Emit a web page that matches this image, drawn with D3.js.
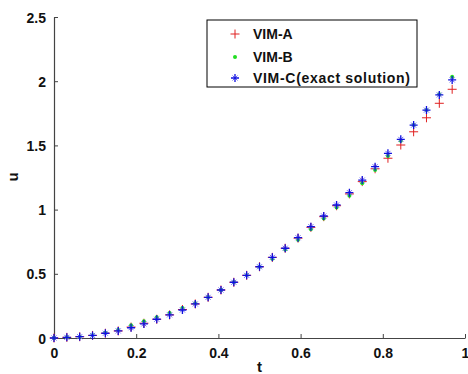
<!DOCTYPE html>
<html>
<head>
<meta charset="utf-8">
<script src="https://cdn.jsdelivr.net/npm/d3@7"></script>
<style>
  body { margin: 0; background: #fff; }
  svg { display: block; }
  text { font-family: "Liberation Sans", Arial, sans-serif; }
  .tick-label { font-size: 14px; font-weight: bold; fill: #111; }
  .axis-title { font-size: 15px; font-weight: bold; fill: #111; }
  .legend-text { font-size: 14px; font-weight: bold; fill: #111; }
</style>
</head>
<body>
<svg id="chart" width="468" height="374"></svg>
<script>
// t grid (k/32)
let tValues = [0, 0.03125, 0.0625, 0.09375, 0.125, 0.15625, 0.1875, 0.21875,
  0.25, 0.28125, 0.3125, 0.34375, 0.375, 0.40625, 0.4375, 0.46875,
  0.5, 0.53125, 0.5625, 0.59375, 0.625, 0.65625, 0.6875, 0.71875,
  0.75, 0.78125, 0.8125, 0.84375, 0.875, 0.90625, 0.9375, 0.96875];

// VIM-C (exact solution)
let vimC = [0, 0.005, 0.01, 0.02, 0.037, 0.055, 0.08, 0.11,
  0.146, 0.18, 0.218, 0.265, 0.317, 0.374, 0.434, 0.488,
  0.555, 0.628, 0.699, 0.781, 0.867, 0.95, 1.036, 1.132,
  1.23, 1.334, 1.438, 1.547, 1.658, 1.775, 1.893, 2.01];

// VIM-B
let vimB = [0, 0.005, 0.01, 0.022, 0.04, 0.062, 0.1, 0.13,
  0.161, 0.195, 0.233, 0.27, 0.317, 0.374, 0.434, 0.488,
  0.555, 0.618, 0.689, 0.766, 0.847, 0.93, 1.016, 1.107,
  1.205, 1.309, 1.418, 1.537, 1.658, 1.775, 1.898, 2.035];

// VIM-A
let vimA = [0, 0.005, 0.01, 0.02, 0.037, 0.055, 0.085, 0.115,
  0.146, 0.18, 0.222, 0.265, 0.317, 0.374, 0.434, 0.488,
  0.555, 0.628, 0.699, 0.778, 0.862, 0.945, 1.03, 1.122,
  1.218, 1.318, 1.40, 1.503, 1.606, 1.715, 1.828, 1.937];

let xTicks = [0, 0.2, 0.4, 0.6, 0.8, 1];
let yTicks = [0, 0.5, 1, 1.5, 2, 2.5];
let legendLabels = ["VIM-A", "VIM-B", "VIM-C(exact solution)"];

let drawChart = function() {
  let svg = d3.select("svg#chart");

  const margin = { left: 54, right: 3, top: 17, bottom: 36 };
  const width = 468, height = 374;
  const plotHeight = height - margin.top - margin.bottom;

  let x = d3.scaleLinear().domain([0, 1]).range([0, 411]);
  let y = d3.scaleLinear().domain([0, 2.5]).range([plotHeight, 0]);

  const plot = svg.append("g").attr("transform", translate(margin.left, margin.top));

  let xAxis = d3.axisBottom(x).tickValues(xTicks).tickSizeInner(-4).tickSizeOuter(0)
    .tickPadding(10).tickFormat(d3.format("~g"));
  let yAxis = d3.axisLeft(y).tickValues(yTicks).tickSizeInner(-4).tickSizeOuter(0)
    .tickPadding(8).tickFormat(d3.format("~g"));

  let xGroup = plot.append("g").attr("transform", translate(0, plotHeight)).call(xAxis);
  let yGroup = plot.append("g").call(yAxis);

  [xGroup, yGroup].forEach(function(g) {
    g.select(".domain").attr("stroke", "#444").attr("stroke-width", 1.2);
    g.selectAll(".tick line").attr("stroke", "#444");
    g.selectAll(".tick text").attr("class", "tick-label").attr("font-family", null).attr("font-size", null);
  });
  xGroup.selectAll(".tick text").attr("dy", "0.71em");
  yGroup.selectAll(".tick text").attr("dy", "0.36em");

  svg.append("text").attr("class", "axis-title")
    .attr("x", margin.left + x(0.5)).attr("y", 372)
    .attr("text-anchor", "middle").text("t");

  svg.append("text").attr("class", "axis-title")
    .attr("transform", translate(18, 177) + " rotate(-90)")
    .attr("text-anchor", "middle").text("u");

  // markers
  const plusPath = "M-4.5,0H4.5M0,-4.5V4.5";
  const starPlus = "M-4,0H4M0,-4V4";
  const starDiag = "M-2.5,-2.5L2.5,2.5M-2.5,2.5L2.5,-2.5";

  plot.append("g").selectAll("path").data(vimA).join("path")
    .attr("d", plusPath)
    .attr("transform", (d, i) => translate(x(tValues[i]), y(d)))
    .attr("stroke", "#e02020").attr("stroke-width", 1).attr("fill", "none");

  plot.append("g").selectAll("circle").data(vimB).join("circle")
    .attr("cx", (d, i) => x(tValues[i])).attr("cy", d => y(d))
    .attr("r", 2).attr("fill", "#22dd22");

  let stars = plot.append("g").selectAll("g").data(vimC).join("g")
    .attr("transform", (d, i) => translate(x(tValues[i]), y(d)));
  stars.append("path").attr("d", starDiag)
    .attr("stroke", "#6a6af0").attr("stroke-width", 1).attr("fill", "none");
  stars.append("path").attr("d", starPlus)
    .attr("stroke", "#1010e0").attr("stroke-width", 1.3).attr("fill", "none");

  // legend
  const legend = svg.append("g").attr("transform", translate(207, 20));
  legend.append("rect").attr("width", 210).attr("height", 67)
    .attr("fill", "#fff").attr("stroke", "#000").attr("stroke-width", 1);

  let rowY = [14, 37, 58];
  legend.append("path").attr("d", plusPath).attr("transform", translate(28, rowY[0]))
    .attr("stroke", "#e02020").attr("fill", "none");
  legend.append("circle").attr("cx", 28).attr("cy", rowY[1]).attr("r", 2).attr("fill", "#22dd22");
  legend.append("path").attr("d", starDiag).attr("transform", translate(28, rowY[2]))
    .attr("stroke", "#6a6af0").attr("stroke-width", 1).attr("fill", "none");
  legend.append("path").attr("d", starPlus).attr("transform", translate(28, rowY[2]))
    .attr("stroke", "#1010e0").attr("stroke-width", 1.3).attr("fill", "none");

  legendLabels.forEach(function(label, i) {
    let t = legend.append("text").attr("class", "legend-text")
      .attr("x", 46).attr("y", rowY[i]).attr("dy", "0.36em").text(label);
    if (i === 2) t.attr("textLength", 157).attr("lengthAdjust", "spacing");
  });
};

drawChart();

function translate(x, y) {
  return "translate(" + String(x) + "," + String(y) + ")";
}
</script>
</body>
</html>
